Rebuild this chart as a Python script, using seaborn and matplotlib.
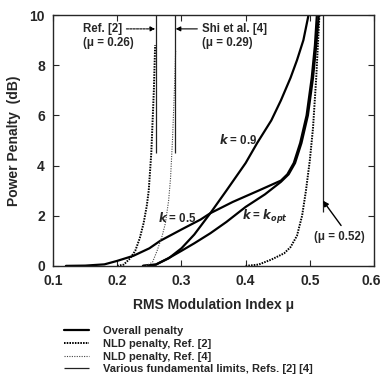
import matplotlib
matplotlib.use('Agg')
import matplotlib.pyplot as plt
import matplotlib.transforms as mtransforms
import seaborn as sns

sns.set_style('ticks')
plt.rcParams['font.family'] = ['Liberation Sans', 'DejaVu Sans']
plt.rcParams['font.weight'] = 'bold'

# overall penalty curves
mu_k05 = [0.12, 0.15, 0.18, 0.20, 0.225, 0.25, 0.267, 0.30, 0.33, 0.345, 0.38, 0.42, 0.455,
          0.465, 0.475, 0.485, 0.495, 0.503, 0.508, 0.511]
pp_k05 = [0.0, 0.01, 0.06, 0.2, 0.4, 0.7, 1.0, 1.45, 1.85, 2.1, 2.55, 3.0, 3.4,
          3.65, 4.1, 4.9, 6.0, 7.5, 8.8, 10.0]
mu_k09 = [0.24, 0.26, 0.28, 0.30, 0.32, 0.345, 0.37, 0.40, 0.418, 0.44, 0.455, 0.47, 0.48, 0.49, 0.498]
pp_k09 = [0.0, 0.05, 0.3, 0.7, 1.25, 2.1, 3.0, 4.1, 4.9, 5.8, 6.6, 7.5, 8.2, 9.0, 10.0]
mu_kopt = [0.24, 0.26, 0.283, 0.30, 0.32, 0.345, 0.37, 0.40, 0.43, 0.455, 0.467, 0.477,
           0.487, 0.497, 0.505, 0.51, 0.514]
pp_kopt = [0.0, 0.05, 0.35, 0.6, 0.9, 1.3, 1.75, 2.35, 2.85, 3.35, 3.65, 4.1,
           4.9, 6.0, 7.5, 8.8, 10.0]

# NLD penalties
mu_nld2 = [0.20, 0.21, 0.22, 0.228, 0.235, 0.241, 0.246, 0.249, 0.253, 0.257, 0.259]
pp_nld2 = [0.0, 0.05, 0.3, 0.6, 1.1, 1.7, 2.4, 3.0, 4.5, 7.0, 8.8]
mu_nld2b = [0.40, 0.42, 0.44, 0.46, 0.47, 0.48, 0.488, 0.494, 0.50, 0.505, 0.51, 0.515]
pp_nld2b = [0.0, 0.05, 0.25, 0.5, 0.75, 1.2, 2.0, 3.0, 4.2, 5.5, 7.5, 10.0]
mu_nld4 = [0.245, 0.255, 0.262, 0.27, 0.275, 0.28, 0.283, 0.286, 0.289, 0.291]
pp_nld4 = [0.0, 0.15, 0.6, 1.2, 1.7, 2.6, 3.5, 5.0, 7.0, 8.6]

# fundamental limits
lim_mu = [0.26, 0.29, 0.52]
lim_bottom = [4.5, 4.5, 2.15]

fig = plt.figure(figsize=(3.82, 3.87), dpi=100)
ax = fig.add_axes([0.139, 0.313, 0.840, 0.648])

sns.lineplot(x=mu_k05, y=pp_k05, ax=ax, color='black', lw=1.6, label='Overall penalty')
sns.lineplot(x=mu_k09, y=pp_k09, ax=ax, color='black', lw=1.6)
sns.lineplot(x=mu_kopt, y=pp_kopt, ax=ax, color='black', lw=1.6)
sns.lineplot(x=mu_nld2, y=pp_nld2, ax=ax, color='black', lw=1.4,
             linestyle=(0, (0.8, 0.6)), label='NLD penalty, Ref. [2]')
sns.lineplot(x=mu_nld2b, y=pp_nld2b, ax=ax, color='black', lw=1.4, linestyle=(0, (0.8, 0.6)))
sns.lineplot(x=mu_nld4, y=pp_nld4, ax=ax, color='#444444', lw=0.8,
             linestyle=(0, (1, 1.2)), label='NLD penalty, Ref. [4]')
ax.vlines(lim_mu, lim_bottom, 10, color='#222222', lw=0.9,
          label='Various fundamental limits, Refs. [2] [4]')

ax.set_xlim(0.1, 0.6)
ax.set_ylim(0, 10)
ax.set_xticks([0.1, 0.2, 0.3, 0.4, 0.5, 0.6])
ax.set_yticks([0, 2, 4, 6, 8, 10])
ax.tick_params(direction='in', top=True, right=True, labelsize=10, length=4, width=0.8, pad=6)
for lab in ax.get_xticklabels() + ax.get_yticklabels():
    lab.set_fontweight('bold')
# keep the last x label inside the figure
last = ax.get_xticklabels()[-1]
last.set_transform(last.get_transform() +
                   mtransforms.ScaledTranslation(-3 / 100, 0, fig.dpi_scale_trans))
for s in ax.spines.values():
    s.set_linewidth(1.0)
ax.set_xlabel('RMS Modulation Index \u03bc', fontsize=10, fontweight='bold', labelpad=7)
ax.set_ylabel('Power Penalty  (dB)', fontsize=10, fontweight='bold', labelpad=6)

fs = 8.3
ax.annotate('Ref. [2]', xy=(0.259, 9.45), xytext=(0.146, 9.45), fontsize=fs,
            fontweight='bold', va='center',
            arrowprops=dict(arrowstyle='-|>', color='black', lw=0.8, ls=(0, (2, 1)),
                            mutation_scale=7, shrinkA=1, shrinkB=0))
ax.text(0.146, 8.9, '(\u03bc = 0.26)', fontsize=fs, fontweight='bold', va='center')
ax.annotate('Shi et al. [4]', xy=(0.291, 9.45), xytext=(0.332, 9.45), fontsize=fs,
            fontweight='bold', va='center',
            arrowprops=dict(arrowstyle='-|>', color='black', lw=0.8,
                            mutation_scale=7, shrinkA=1, shrinkB=0))
ax.text(0.332, 8.9, '(\u03bc = 0.29)', fontsize=fs, fontweight='bold', va='center')
ax.text(0.358, 5.0, '$\\mathbfit{k}$ = 0.9', fontsize=fs, fontweight='bold', va='center')
ax.text(0.264, 1.9, '$\\mathbfit{k}$ = 0.5', fontsize=fs, fontweight='bold', va='center')
ax.text(0.395, 1.95, '$\\mathbfit{k}$ = $\\mathbfit{k}_{\\mathbfit{opt}}$', fontsize=fs,
        fontweight='bold', va='center')
ax.annotate('(\u03bc = 0.52)', xy=(0.5205, 2.6), xytext=(0.506, 1.15), fontsize=fs,
            fontweight='bold', va='center',
            arrowprops=dict(arrowstyle='-|>', color='black', lw=1.0,
                            mutation_scale=8, shrinkA=2, shrinkB=0,
                            relpos=(0.62, 1.0)))

ax.legend(loc='upper left', bbox_to_anchor=(0.174 - 0.139, -0.24), bbox_transform=ax.transAxes,
          frameon=False, fontsize=8, handlelength=2.2, handletextpad=1.3, labelspacing=0.25,
          borderaxespad=0, borderpad=0)
leg = ax.get_legend()
for t in leg.get_texts():
    t.set_fontweight('bold')

fig.savefig('out.png', dpi=100)
